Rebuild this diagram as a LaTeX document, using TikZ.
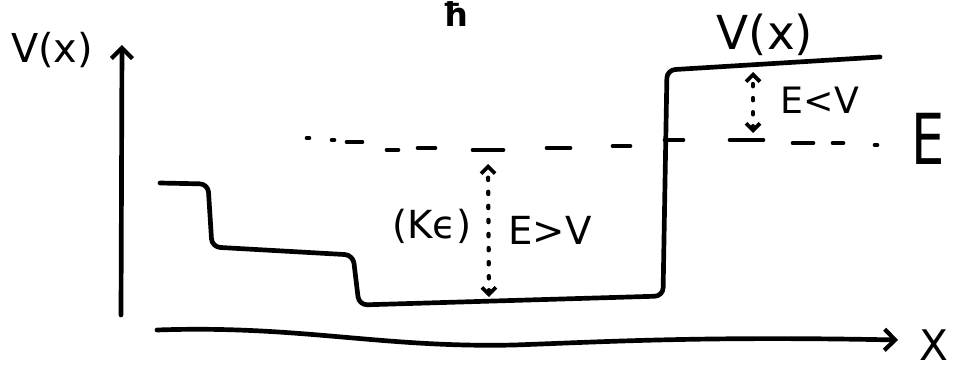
\documentclass[tikz,border=0pt]{standalone}
\usepackage{fontspec}
\setmainfont{DejaVu Sans}
\usetikzlibrary{arrows.meta}
\begin{document}
\begin{tikzpicture}[x=0.03cm,y=-0.03cm,
  ink/.style={line width=4pt, line cap=round, line join=round},
  barb/.style={-{Straight Barb[length=9pt,width=18pt,line width=3.6pt]}},
  lbl/.style={inner sep=0pt, font=\fontsize{#1pt}{#1pt}\selectfont},
  dashlbl/.style={line width=3.6pt, line cap=round, dash pattern=on 2pt off 10pt,
    {Straight Barb[length=6pt,width=12pt,line width=3.2pt]}-{Straight Barb[length=6pt,width=12pt,line width=3.2pt]}}
]
\useasboundingbox (0,0) rectangle (954,369);
% fragment at top
\node[lbl=28, font=\bfseries\fontsize{28pt}{28pt}\selectfont] (hb) at (455,14) {ħ};
% axes
\coordinate (yb) at (121,315);
\coordinate (yt) at (122,45);
\draw[ink,barb] (yb) -- (yt);
\coordinate (xl) at (157,330);
\coordinate (xr) at (898,340);
\draw[ink,barb] (xl) .. controls (300,325) and (380,348) .. (514,345)
  .. controls (600,342) and (700,336) .. (xr);
\node[lbl=34] (vl) at (52,50) {V(x)};
\node[lbl=36] (xlab) at (934,345) {X};
% potential
\draw[ink, rounded corners=7pt] (160,183) -- (208,184) -- (212,247) -- (353,255)
  -- (359,305) -- (663,296) -- (667,70) -- (880,57);
\node[lbl=40] (vr) at (765,35) {V(x)};
% energy level
\foreach \a/\b/\y in {307/309/138, 332/334/140, 347/362/142, 387/398/150, 418/435/148,
  473/503/150, 547/570/148, 613/630/146, 665/683/140, 730/763/140, 793/813/143, 833/843/143, 875/877/145}
  \draw[ink] (\a,\y) -- (\b,\y);
\node[lbl=60, xscale=0.75] (el) at (928,139) {E};
% arrows
\coordinate (kt) at (488,164);
\coordinate (kb) at (489,297);
\draw[dashlbl] (kb) -- (kt);
\node[lbl=33] (ke) at (432,226) {(Kϵ)};
\node[lbl=33] (egv) at (550,230) {E>V};
\coordinate (st) at (753,72);
\coordinate (sb) at (753,133);
\draw[dashlbl] (sb) -- (st);
\node[lbl=31] (elv) at (820,100) {E<V};
\end{tikzpicture}
\end{document}
